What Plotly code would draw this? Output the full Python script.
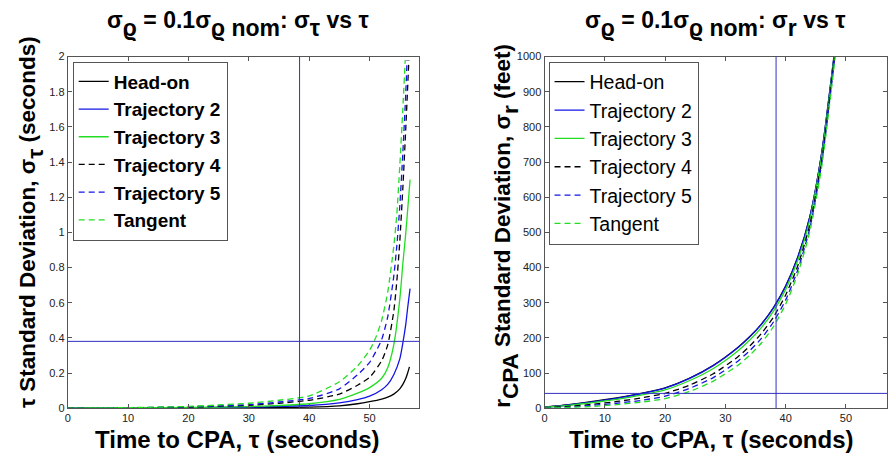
import plotly.graph_objects as go

# ---------------- data ----------------
series_names = ["Head-on", "Trajectory 2", "Trajectory 3", "Trajectory 4", "Trajectory 5", "Tangent"]

# Left panel: sigma_tau (seconds) vs tau (seconds)
tau_L_headon = [0, 10, 20, 30, 35, 40, 45, 48, 50, 52, 53, 54, 55, 55.5, 56, 56.3, 56.6]
sig_tau_headon = [0, 0, 0.0005, 0.002, 0.004, 0.006, 0.013, 0.025, 0.037, 0.052, 0.063, 0.08, 0.11, 0.135, 0.17, 0.2, 0.235]

tau_L_traj2 = [0, 10, 20, 30, 35, 40, 45, 48, 50, 52, 53, 54, 55, 55.5, 56, 56.3, 56.7]
sig_tau_traj2 = [0, 0.0005, 0.002, 0.006, 0.01, 0.015, 0.03, 0.048, 0.068, 0.105, 0.135, 0.19, 0.28, 0.37, 0.48, 0.57, 0.68]

tau_L_traj3 = [0, 10, 20, 30, 35, 40, 45, 48, 50, 52, 53, 54, 55, 55.5, 56, 56.4, 56.7]
sig_tau_traj3 = [0, 0.001, 0.004, 0.009, 0.015, 0.025, 0.05, 0.085, 0.117, 0.17, 0.23, 0.36, 0.62, 0.82, 1.0, 1.17, 1.30]

tau_L_traj4 = [0, 10, 20, 30, 35, 40, 45, 48, 50, 52, 53, 54, 54.5, 55, 55.5, 56, 56.5]
sig_tau_traj4 = [0, 0.002, 0.006, 0.016, 0.028, 0.045, 0.08, 0.13, 0.175, 0.27, 0.36, 0.55, 0.72, 0.95, 1.25, 1.6, 1.98]

tau_L_traj5 = [0, 10, 20, 30, 35, 40, 45, 48, 50, 51, 52, 53, 54, 54.5, 55, 55.5, 56, 56.2]
sig_tau_traj5 = [0, 0.002, 0.008, 0.02, 0.035, 0.055, 0.11, 0.19, 0.26, 0.32, 0.39, 0.52, 0.75, 0.92, 1.15, 1.45, 1.8, 1.98]

tau_L_tangent = [0, 10, 20, 30, 35, 40, 45, 48, 50, 51, 52, 53, 54, 54.5, 55, 55.5, 55.9]
sig_tau_tangent = [0, 0.003, 0.01, 0.028, 0.045, 0.07, 0.15, 0.24, 0.33, 0.4, 0.5, 0.66, 0.92, 1.1, 1.38, 1.7, 1.98]

# Right panel: r_CPA sigma (feet) vs tau (seconds)
tau_R = [0, 4, 8, 12, 16, 20, 24, 28, 32, 34, 36, 38, 40, 42, 44, 46, 48, 48.6]
sig_r_headon = [3, 10, 19, 29, 42, 58, 85, 122, 172, 203, 240, 287, 348, 430, 545, 730, 1000, 1090]
sig_r_traj2 = [2, 9, 18, 28, 41, 57, 84, 121, 171, 202, 239, 286, 347, 429, 544, 729, 998, 1088]
sig_r_traj3 = [2, 8, 16, 25, 37, 52, 78, 113, 162, 193, 230, 277, 338, 420, 535, 720, 992, 1082]
sig_r_traj4 = [1, 5, 11, 19, 29, 42, 65, 98, 145, 176, 213, 260, 322, 405, 522, 708, 985, 1075]
sig_r_traj5 = [0, 3, 8, 14, 22, 34, 56, 87, 133, 163, 199, 246, 308, 393, 512, 700, 978, 1068]
sig_r_tangent = [0, 2, 5, 10, 17, 27, 47, 77, 121, 150, 186, 233, 296, 382, 502, 690, 968, 1058]

# reference lines
tau_ref = 38.4
sig_tau_ref = 0.38
sig_r_ref = 42

x_ticks = [0, 10, 20, 30, 40, 50]
yL_ticks = [0, 0.2, 0.4, 0.6, 0.8, 1, 1.2, 1.4, 1.6, 1.8, 2]
yR_ticks = [0, 100, 200, 300, 400, 500, 600, 700, 800, 900, 1000]

# ---------------- styling ----------------
W, H = 888, 457
BLACK, BLUE, GREEN = "#000000", "#1414e6", "#22dd22"
styles = [
    (BLACK, "solid"), (BLUE, "solid"), (GREEN, "solid"),
    (BLACK, "6px,4px"), (BLUE, "6px,4px"), (GREEN, "6px,4px"),
]
FONT = "Liberation Sans, Arial, sans-serif"

left_data = [
    (tau_L_headon, sig_tau_headon), (tau_L_traj2, sig_tau_traj2), (tau_L_traj3, sig_tau_traj3),
    (tau_L_traj4, sig_tau_traj4), (tau_L_traj5, sig_tau_traj5), (tau_L_tangent, sig_tau_tangent),
]
right_data = [sig_r_headon, sig_r_traj2, sig_r_traj3, sig_r_traj4, sig_r_traj5, sig_r_tangent]

fig = go.Figure()
for name, (xs, ys), (c, d) in zip(series_names, left_data, styles):
    fig.add_trace(go.Scatter(
        x=xs, y=ys, mode="lines", name=name, xaxis="x", yaxis="y",
        line=dict(color=c, dash=d, width=1.3, shape="spline", smoothing=0.6),
        legend="legend",
    ))
for name, ys, (c, d) in zip(series_names, right_data, styles):
    fig.add_trace(go.Scatter(
        x=tau_R, y=ys, mode="lines", name=name, xaxis="x2", yaxis="y2",
        line=dict(color=c, dash=d, width=1.3, shape="spline", smoothing=0.6),
        legend="legend2",
    ))


def px_x(p):
    return p / W


def px_y(p):
    return 1 - p / H


axis_common = dict(
    showgrid=False, zeroline=False, showline=True, linecolor="#555555", linewidth=1,
    mirror="ticks", ticks="inside", ticklen=4, tickcolor="#555555",
    tickfont=dict(family=FONT, size=11, color="#222222"),
)

LEG = 19
fig.update_layout(
    width=W, height=H,
    margin=dict(l=0, r=0, t=0, b=0),
    paper_bgcolor="white", plot_bgcolor="white",
    showlegend=True,
    xaxis=dict(domain=[px_x(65), px_x(418)], range=[0, 58.2], tickvals=x_ticks, anchor="y", **axis_common),
    yaxis=dict(domain=[px_y(413), px_y(52)], range=[0, 2], tickvals=yL_ticks, anchor="x", **axis_common),
    xaxis2=dict(domain=[px_x(544), 1.0], range=[0, 56.8], tickvals=x_ticks, anchor="y2", **axis_common),
    yaxis2=dict(domain=[px_y(413), px_y(52)], range=[0, 1000], tickvals=yR_ticks, anchor="x2", **axis_common),
    legend=dict(
        x=px_x(70), y=px_y(57), xanchor="left", yanchor="top",
        bgcolor="white", bordercolor="#555555", borderwidth=1,
        font=dict(family=FONT, size=LEG, color="black", weight="bold"),
        itemwidth=30,
    ),
    legend2=dict(
        x=px_x(548), y=px_y(57), xanchor="left", yanchor="top",
        bgcolor="white", bordercolor="#555555", borderwidth=1,
        font=dict(family=FONT, size=LEG + 0.5, color="black"),
        itemwidth=30,
    ),
)

ref_line = dict(color="#3030c0", width=1)
fig.add_shape(type="line", xref="x", yref="y domain", x0=tau_ref, x1=tau_ref, y0=0, y1=1, line=ref_line)
fig.add_shape(type="line", xref="x domain", yref="y", x0=0, x1=1, y0=sig_tau_ref, y1=sig_tau_ref, line=ref_line)
fig.add_shape(type="line", xref="x2", yref="y2 domain", x0=tau_ref, x1=tau_ref, y0=0, y1=1, line=ref_line)
fig.add_shape(type="line", xref="x2 domain", yref="y2", x0=0, x1=1, y0=sig_r_ref, y1=sig_r_ref, line=ref_line)


def sub(t, size):
    return "<sub><sub><span style='font-size:%spx'>%s</span></sub></sub>" % (size, t)


TS = 23     # title size
XS = 24     # x label size
YS = 22.5   # y label size
title_font = dict(family=FONT, size=TS, color="black")
xlab_font = dict(family=FONT, size=XS, color="black")
ylab_font = dict(family=FONT, size=YS, color="black")
annots = [
    dict(text="<b>σ" + sub("ϱ", TS) + " = 0.1σ" + sub("ϱ nom", TS) + ": σ" + sub("τ", TS) + " vs τ</b>",
         x=px_x(236), y=px_y(18), font=title_font),
    dict(text="<b>σ" + sub("ϱ", TS) + " = 0.1σ" + sub("ϱ nom", TS) + ": σ" + sub("r", TS) + " vs τ</b>",
         x=px_x(715), y=px_y(18), font=title_font),
    dict(text="<b>Time to CPA, τ (seconds)</b>", x=px_x(236), y=px_y(445), font=xlab_font),
    dict(text="<b>Time to CPA, τ (seconds)</b>", x=px_x(712), y=px_y(445), font=xlab_font),
    dict(text="<b>τ Standard Deviation, σ" + sub("τ", YS) + " (seconds)</b>", x=px_x(28), y=px_y(222),
         textangle=-90, font=ylab_font),
    dict(text="<b>r" + sub("CPA", YS) + " Standard Deviation, σ" + sub("r", YS) + " (feet)</b>",
         x=px_x(505), y=px_y(226), textangle=-90, font=ylab_font),
]
for a in annots:
    fig.add_annotation(xref="paper", yref="paper", xanchor="center", yanchor="middle",
                       showarrow=False, **a)

fig.write_html(
    "out.html",
    config={"displayModeBar": False},
    post_script="document.body.style.margin='0';document.body.style.overflow='hidden';",
)
